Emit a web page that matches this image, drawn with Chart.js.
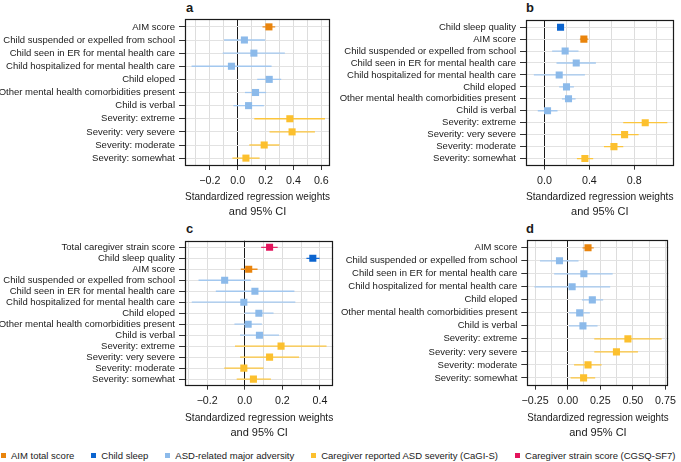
<!DOCTYPE html>
<html>
<head>
<meta charset="utf-8">
<script src="https://cdn.jsdelivr.net/npm/chart.js@4"></script>
<style>
  html, body { margin: 0; padding: 0; background: #fff; }
  body { width: 681px; height: 462px; position: relative; overflow: hidden;
         font-family: "Liberation Sans", Arial, sans-serif; color: #1a1a1a; }
  .panel { position: absolute; }
  .tag { position: absolute; font-weight: bold; font-size: 13px; line-height: 13px; }
  #legend { position: absolute; left: 1px; top: 450px; display: flex; gap: 17px;
            font-size: 9.5px; line-height: 12px; white-space: nowrap; }
  #legend span.sw { display: inline-block; width: 5px; height: 5px; margin-right: 5px; vertical-align: 1px; }
</style>
</head>
<body>
<div class="tag" style="left:186px; top:1px;">a</div>
<div class="tag" style="left:526px; top:1px;">b</div>
<div class="tag" style="left:186px; top:222px;">c</div>
<div class="tag" style="left:526px; top:222px;">d</div>

<canvas id="pa" class="panel" style="left:0; top:0;"></canvas>
<canvas id="pb" class="panel" style="left:330px; top:0;"></canvas>
<canvas id="pc" class="panel" style="left:0; top:222px;"></canvas>
<canvas id="pd" class="panel" style="left:330px; top:222px;"></canvas>

<div id="legend"></div>

<script>
// ---- data (rows top to bottom) ----
const adversityRows = [
  "Child suspended or expelled from school",
  "Child seen in ER for mental health care",
  "Child hospitalized for mental health care",
  "Child eloped",
  "Other mental health comorbidities present",
  "Child is verbal",
];
const severityRows = [
  "Severity: extreme",
  "Severity: very severe",
  "Severity: moderate",
  "Severity: somewhat",
];

const rowsA = ["AIM score", ...adversityRows, ...severityRows];
const groupA = ["aim", "adv", "adv", "adv", "adv", "adv", "adv", "sev", "sev", "sev", "sev"];
const estA = [0.224, 0.048, 0.116, -0.045, 0.226, 0.128, 0.078, 0.374, 0.390, 0.190, 0.059];
const loA  = [0.178, -0.098, -0.107, -0.331, 0.140, 0.052, -0.031, 0.119, 0.228, 0.083, -0.038];
const hiA  = [0.269, 0.197, 0.338, 0.243, 0.312, 0.204, 0.188, 0.626, 0.554, 0.300, 0.157];

const rowsB = ["Child sleep quality", "AIM score", ...adversityRows, ...severityRows];
const groupB = ["sleep", "aim", "adv", "adv", "adv", "adv", "adv", "adv", "sev", "sev", "sev", "sev"];
const estB = [0.143, 0.351, 0.184, 0.283, 0.131, 0.196, 0.214, 0.027, 0.898, 0.714, 0.619, 0.360];
const loB  = [0.125, 0.315, 0.068, 0.107, -0.095, 0.131, 0.155, -0.060, 0.702, 0.595, 0.530, 0.289];
const hiB  = [0.162, 0.390, 0.303, 0.458, 0.360, 0.262, 0.277, 0.116, 1.095, 0.839, 0.702, 0.434];

const rowsC = ["Total caregiver strain score", "Child sleep quality", "AIM score", ...adversityRows, ...severityRows];
const groupC = ["strain", "sleep", "aim", "adv", "adv", "adv", "adv", "adv", "adv", "sev", "sev", "sev", "sev"];
const estC = [0.132, 0.362, 0.021, -0.107, 0.054, -0.005, 0.075, 0.018, 0.078, 0.193, 0.132, -0.005, 0.046];
const loC  = [0.087, 0.328, -0.021, -0.246, -0.154, -0.282, -0.002, -0.055, -0.025, -0.052, -0.025, -0.109, -0.043];
const hiC  = [0.175, 0.398, 0.068, 0.032, 0.264, 0.269, 0.153, 0.091, 0.182, 0.435, 0.289, 0.100, 0.139];

const rowsD = ["AIM score", ...adversityRows, ...severityRows];
const groupD = ["aim", "adv", "adv", "adv", "adv", "adv", "adv", "sev", "sev", "sev", "sev"];
const estD = [0.156, -0.063, 0.124, 0.034, 0.189, 0.092, 0.117, 0.462, 0.374, 0.156, 0.122];
const loD  = [0.114, -0.213, -0.104, -0.255, 0.109, 0.012, 0.010, 0.204, 0.204, 0.049, 0.022];
const hiD  = [0.200, 0.083, 0.345, 0.326, 0.272, 0.170, 0.229, 0.721, 0.539, 0.260, 0.211];

// x tick labels (major) and minor grid positions
const majorA = [-0.2, 0, 0.2, 0.4, 0.6];
const labelA = ["\u22120.2", "0.0", "0.2", "0.4", "0.6"];
const minorA = [-0.3, -0.1, 0.1, 0.3, 0.5];
const majorB = [0, 0.4, 0.8];
const labelB = ["0.0", "0.4", "0.8"];
const minorB = [0.2, 0.6, 1.0];
const majorC = [-0.2, 0, 0.2, 0.4];
const labelC = ["\u22120.2", "0.0", "0.2", "0.4"];
const minorC = [-0.3, -0.1, 0.1, 0.3];
const majorD = [-0.25, 0, 0.25, 0.5, 0.75];
const labelD = ["\u22120.25", "0.00", "0.25", "0.50", "0.75"];
const minorD = [-0.125, 0.125, 0.375, 0.625];

const legendGroups = ["aim", "sleep", "adv", "sev", "strain"];
const legendLabels = [
  "AIM total score",
  "Child sleep",
  "ASD-related major adversity",
  "Caregiver reported ASD severity (CaGI-S)",
  "Caregiver strain score (CGSQ-SF7)",
];

// ---- styles ----
const pointColor = { aim: "#E9840C", sleep: "#0B64CF", adv: "#8CBAEA", sev: "#FCC02E", strain: "#E3145C" };
const lineColor  = { aim: "#EC8F22", sleep: "#1A6ED4", adv: "#A3C8EF", sev: "#FCC53C", strain: "#E62D6B" };
const FONT = "'Liberation Sans', Arial, Helvetica, sans-serif";
const TEXT = "#1a1a1a";

const frame = {
  id: "frame",
  afterDatasetsDraw(chart) {
    const a = chart.chartArea, ctx = chart.ctx;
    ctx.save();
    ctx.strokeStyle = "#1a1a1a";
    ctx.lineWidth = 1.2;
    ctx.strokeRect(Math.round(a.left) + 0.5, Math.round(a.top) + 0.5,
                   Math.round(a.right - a.left) - 1, Math.round(a.bottom - a.top) - 1);
    ctx.restore();
  },
};

function makePanel(id, w, h, box, rows, groups, est, lo, hi, xMin, xMax, majors, labels, minors) {
  const cv = document.getElementById(id);
  cv.width = w; cv.height = h;
  cv.style.width = w + "px"; cv.style.height = h + "px";

  const datasets = [{
    data: est.map((v, i) => ({ x: v, y: i })),
    pointStyle: "rect",
    pointRadius: 5,
    pointBorderWidth: 0,
    pointBackgroundColor: groups.map(g => pointColor[g]),
    showLine: false,
  }];
  rows.forEach((_, i) => {
    datasets.push({
      data: [{ x: lo[i], y: i }, { x: hi[i], y: i }],
      showLine: true,
      borderColor: lineColor[groups[i]],
      borderWidth: 1.3,
      pointRadius: 0,
    });
  });

  const isMajor = v => majors.findIndex(m => Math.abs(m - v) < 1e-9);

  return new Chart(cv, {
    type: "scatter",
    data: { datasets },
    options: {
      responsive: false,
      animation: false,
      events: [],
      layout: { padding: { left: 0, top: box.top, right: box.right, bottom: 0 } },
      plugins: { legend: { display: false }, tooltip: { enabled: false } },
      scales: {
        x: {
          type: "linear",
          min: xMin, max: xMax,
          afterBuildTicks: s => { s.ticks = [...majors, ...minors].sort((p, q) => p - q).map(v => ({ value: v })); },
          afterFit: s => { s.height = box.xh; },
          border: { display: false },
          grid: {
            color: c => (c.tick && Math.abs(c.tick.value) < 1e-9) ? "#1a1a1a" : "#dddddd",
            lineWidth: 1,
            tickLength: 4,
            tickColor: c => (c.tick && isMajor(c.tick.value) >= 0) ? "#333" : "rgba(0,0,0,0)",
          },
          ticks: {
            autoSkip: false, maxRotation: 0, padding: 5,
            font: { family: FONT, size: 10.7 }, color: TEXT,
            callback: v => { const k = isMajor(v); return k >= 0 ? labels[k] : ""; },
          },
          title: {
            display: true,
            text: ["Standardized regression weights", "and 95% CI"],
            font: { family: FONT, size: 11, lineHeight: 1.32 },
            color: TEXT,
            padding: 0,
          },
        },
        y: {
          type: "linear",
          reverse: true,
          min: -0.6, max: rows.length - 0.4,
          afterBuildTicks: s => { s.ticks = rows.map((_, i) => ({ value: i })); },
          afterFit: s => { s.width = box.yw; },
          border: { display: false },
          grid: { color: "#e2e2e2", lineWidth: 1, tickLength: 6, tickColor: "#333" },
          ticks: {
            autoSkip: false, padding: 4,
            font: { family: FONT, size: 9.5 }, color: TEXT,
            callback: v => rows[Math.round(v)],
          },
        },
      },
    },
    plugins: [frame],
  });
}

makePanel("pa", 340, 219, { top: 19, right: 10, yw: 185, xh: 53 },
  rowsA, groupA, estA, loA, hiA, -0.378, 0.662, majorA, labelA, minorA);
makePanel("pb", 351, 219, { top: 20, right: 7.5, yw: 196, xh: 53.3 },
  rowsB, groupB, estB, loB, hiB, -0.165, 1.15, majorB, labelB, minorB);
makePanel("pc", 340, 218, { top: 18.7, right: 6.7, yw: 185, xh: 54.3 },
  rowsC, groupC, estC, loC, hiC, -0.318, 0.471, majorC, labelC, minorC);
makePanel("pd", 351, 218, { top: 18, right: 7, yw: 197.3, xh: 54.3 },
  rowsD, groupD, estD, loD, hiD, -0.31, 0.774, majorD, labelD, minorD);

// ---- shared legend ----
const legend = document.getElementById("legend");
legendGroups.forEach((g, i) => {
  const item = document.createElement("div");
  item.innerHTML = `<span class="sw" style="background:${pointColor[g]}"></span>${legendLabels[i]}`;
  legend.appendChild(item);
});
</script>
</body>
</html>
